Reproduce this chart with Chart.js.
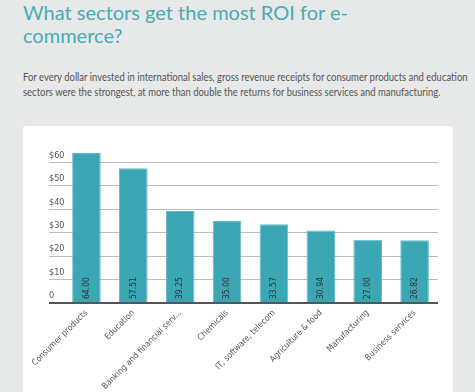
<!DOCTYPE html>
<html>
<head>
<meta charset="utf-8">
<script src="https://cdn.jsdelivr.net/npm/chart.js@4"></script>
<style>
  body { margin: 0; background: #e7e8e8; width: 475px; height: 392px; overflow: hidden; position: relative; }
  h1 {
    position: absolute; left: 23px; top: 1px; margin: 0;
    font-family: Lato, sans-serif;
    font-weight: normal; font-size: 20px; line-height: 23px; color: #4aabb8;
  }
  p {
    position: absolute; left: 23px; top: 69px; margin: 0; white-space: nowrap;
    font-family: Lato, sans-serif;
    font-size: 12px; line-height: 15px; color: #555;
    transform-origin: 0 0; transform: scaleX(0.79);
  }
  #panel { position: absolute; left: 23px; top: 126px; width: 430px; height: 280px; background: #fff; border-radius: 3px; }
  #wrap { position: absolute; left: 0; top: 0; width: 430px; height: 266px; }
</style>
</head>
<body>
<h1>What sectors get the most ROI for e-<br>commerce?</h1>
<p id="sub">For every dollar invested in international sales, gross revenue receipts for consumer products and education<br>sectors were the strongest, at more than double the returns for business services and manufacturing.</p>
<div id="panel"><div id="wrap"><canvas id="grafico"></canvas></div></div>
<script>
// dados
const setores = ["Consumer products", "Education", "Banking and financial services", "Chemicals",
  "IT, software, telecom", "Agriculture & food", "Manufacturing", "Business services"];
const retorno = [64.00, 57.51, 39.25, 35.00, 33.57, 30.94, 27.00, 26.82];
const ticksY = [0, 10, 20, 30, 40, 50, 60];

const fonte = "'DejaVu Sans Condensed', 'DejaVu Sans', sans-serif";

// valores escritos dentro das barras
const valoresNasBarras = {
  id: 'valoresNasBarras',
  afterDatasetsDraw(chart) {
    const ctx = chart.ctx;
    const meta = chart.getDatasetMeta(0);
    ctx.save();
    ctx.font = "8.5px " + fonte;
    ctx.fillStyle = "#333";
    ctx.textAlign = "left";
    ctx.textBaseline = "middle";
    meta.data.forEach((bar, i) => {
      ctx.save();
      ctx.translate(bar.x, bar.base - 3);
      ctx.rotate(-Math.PI / 2);
      ctx.fillText(retorno[i].toFixed(2), 0, 0);
      ctx.restore();
    });
    ctx.restore();
  }
};

new Chart(document.getElementById('grafico'), {
  type: 'bar',
  data: {
    labels: setores,
    datasets: [{
      data: retorno,
      backgroundColor: '#3ca7b4',
      borderColor: '#62bcc6',
      borderWidth: 1,
      categoryPercentage: 1,
      barPercentage: 0.61
    }]
  },
  options: {
    responsive: true,
    maintainAspectRatio: false,
    animation: false,
    layout: { padding: { left: 26, right: 15, top: 27, bottom: 0 } },
    plugins: { legend: { display: false }, tooltip: { enabled: false } },
    scales: {
      x: {
        grid: { display: false, drawTicks: false },
        border: { display: false },
        ticks: {
          color: '#555',
          font: { family: fonte, size: 8.5 },
          maxRotation: 45, minRotation: 45,
          padding: 5,
          autoSkip: false,
          callback: function (v, i) {
            const s = setores[i];
            return s.length > 26 ? s.slice(0, 26) + '...' : s;
          }
        },
        afterFit: s => { s.height = 89; s.paddingLeft = 0; s.paddingRight = 0; }
      },
      y: {
        min: 0, max: 64,
        border: { display: false },
        grid: {
          color: c => c.tick && c.tick.value === 0 ? '#555' : '#bdbdbd',
          lineWidth: c => c.tick && c.tick.value === 0 ? 2 : 1,
          tickLength: 14
        },
        afterBuildTicks: s => { s.ticks = ticksY.map(v => ({ value: v })); },
        ticks: {
          color: '#555',
          font: { family: fonte, size: 9 },
          mirror: true,
          padding: -14,
          labelOffset: -7,
          callback: v => v === 0 ? '0' : '$' + v
        },
        afterFit: s => { s.width = 14; }
      }
    }
  },
  plugins: [valoresNasBarras]
});
</script>
</body>
</html>
